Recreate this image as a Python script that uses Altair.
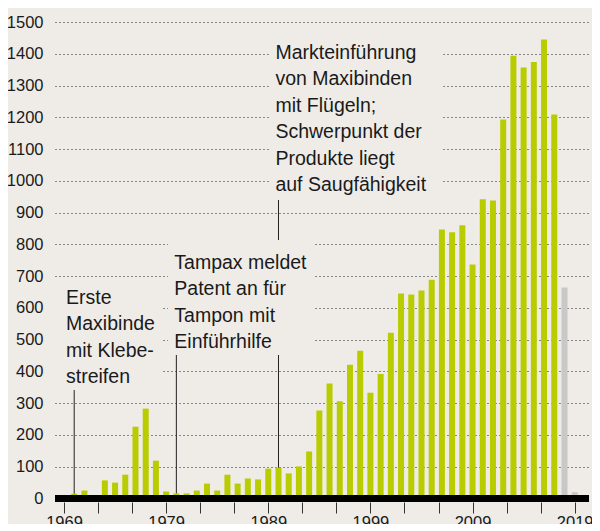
import altair as alt
import pandas as pd

# ---- data ----
years = list(range(1970, 2020))
values = [15, 25, 0, 57, 50, 75, 226, 283, 119, 22,
          16, 16, 25, 47, 25, 75, 47, 63, 60, 94,
          97, 79, 101, 148, 277, 362, 306, 421, 465, 333,
          392, 522, 645, 642, 655, 689, 847, 838, 860, 737,
          942, 938, 1193, 1394, 1357, 1374, 1445, 1209, 664, 20]
status = ["final"] * 48 + ["vorläufig"] * 2

y_ticks = list(range(0, 1501, 100))
x_ticks = [1969 + (i * 10) / 3 for i in range(16)]

ann_text = [
    "Erste\nMaxibinde\nmit Klebe-\nstreifen",
    "Tampax meldet\nPatent an für\nTampon mit\nEinführhilfe",
    "Markteinführung\nvon Maxibinden\nmit Flügeln;\nSchwerpunkt der\nProdukte liegt\nauf Saugfähigkeit",
]
ann_year = [1970, 1980, 1990]          # year the leader line points to
ann_text_x = [1969.2, 1979.8, 1989.7]
ann_text_y = [661, 771, 1432]
ann_line_top = [341.5, 451.7, 939.7]
box_x1 = [1968.12, 1979.18, 1989.07]
box_x2 = [1978.50, 1993.38, 2005.91]
box_y1 = [341.5, 451.7, 939.7]
box_y2 = [687.8, 813.7, 1468.5]

BG = "#efece8"
FONT = "Liberation Sans Narrow, Liberation Sans, sans-serif"
TXT = "#1a1a1a"

bars_df = pd.DataFrame({"Jahr": years, "Wert": values, "Status": status})
val_by_year = dict(zip(years, values))
ann_df = pd.DataFrame({
    "text": ann_text,
    "tx": ann_text_x, "ty": ann_text_y,
    "lx": ann_year, "ly1": ann_line_top,
    "ly2": [val_by_year[y] for y in ann_year],
    "bx1": box_x1, "bx2": box_x2, "by1": box_y1, "by2": box_y2,
})

xscale = alt.Scale(domain=[1968.12, 2020.40], nice=False, zero=False, padding=0)
yscale = alt.Scale(domain=[0, 1500], nice=False, padding=0)

xaxis = alt.Axis(values=x_ticks, title=None, domain=False, grid=False,
                 offset=3.5, tickSize=11, tickColor="#333", tickWidth=1,
                 labelExpr="datum.value % 10 == 9 ? format(datum.value, 'd') : ''",
                 labelFont=FONT, labelFontSize=16.5, labelColor=TXT,
                 labelPadding=1, labelOverlap=False, labelFlush=False)
yaxis = alt.Axis(values=y_ticks, title=None, domain=False, ticks=False,
                 grid=True, gridDash=[1, 3], gridColor="#222", gridWidth=1,
                 labelFont=FONT, labelFontSize=16.5, labelColor=TXT,
                 labelPadding=12, format="d", labelOverlap=False,
                 labelFlush=False)

bars = alt.Chart(bars_df).mark_bar(size=6).encode(
    x=alt.X("Jahr:Q", scale=xscale, axis=xaxis, title=None),
    y=alt.Y("Wert:Q", scale=yscale, axis=yaxis, title=None),
    color=alt.Color("Status:N", scale=alt.Scale(domain=["final", "vorläufig"],
                                                range=["#b9cc00", "#c8c8c8"]),
                    legend=None),
)

leaders = alt.Chart(ann_df).mark_rule(color="#222", strokeWidth=1).encode(
    x=alt.X("lx:Q", scale=xscale, axis=xaxis, title=None),
    y=alt.Y("ly1:Q", scale=yscale, axis=yaxis, title=None), y2="ly2:Q")

boxes = alt.Chart(ann_df).mark_rect(color=BG).encode(
    x=alt.X("bx1:Q", scale=xscale, axis=xaxis, title=None), x2="bx2:Q",
    y=alt.Y("by1:Q", scale=yscale, axis=yaxis, title=None), y2="by2:Q")

texts = alt.Chart(ann_df).mark_text(
    align="left", baseline="top", lineBreak="\n", lineHeight=26.5,
    font=FONT, fontSize=19.5, color=TXT).encode(
    x=alt.X("tx:Q", scale=xscale, axis=xaxis, title=None),
    y=alt.Y("ty:Q", scale=yscale, axis=yaxis, title=None), text="text:N")

base_df = pd.DataFrame({"y": [0]})
baseline = alt.Chart(base_df).mark_rule(color="black", strokeWidth=7).encode(
    y=alt.Y("y:Q", scale=yscale, axis=yaxis, title=None))

chart = alt.layer(bars, leaders, boxes, texts, baseline).properties(
    width=534, height=476.5,
    autosize=alt.AutoSizeParams(type="none"),
    padding={"left": 47, "top": 14, "right": 3, "bottom": 25},
    background=BG,
).configure_view(stroke=None)

chart.save("out.html", embed_options={"renderer": "svg", "actions": False})
